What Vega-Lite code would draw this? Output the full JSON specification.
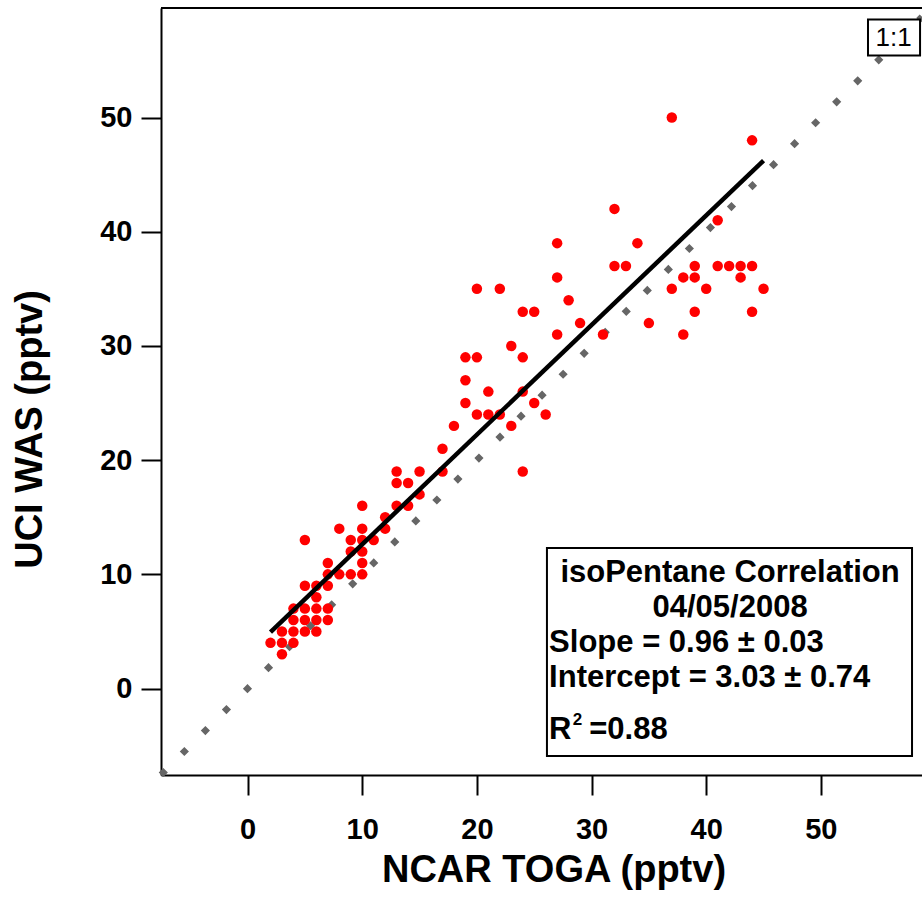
{
  "$schema": "https://vega.github.io/schema/vega-lite/v6.json",
  "width": 761,
  "height": 767,
  "autosize": "none",
  "padding": {"left": 161, "top": 8, "right": 0, "bottom": 126},
  "background": "white",
  "config": {
    "view": {"stroke": null},
    "font": "Liberation Sans",
    "axis": {
      "grid": false,
      "domainColor": "black",
      "domainWidth": 2,
      "tickColor": "black",
      "tickWidth": 2,
      "tickSize": 20,
      "labelFont": "Liberation Sans",
      "labelFontWeight": "bold",
      "labelFontSize": 29,
      "labelColor": "black",
      "labelFlush": false,
      "titleFont": "Liberation Sans",
      "titleFontWeight": "bold",
      "titleFontSize": 38,
      "titleColor": "black"
    }
  },
  "datasets": {
    "points": [
      {"NCAR_TOGA": 2, "UCI_WAS": 4}, {"NCAR_TOGA": 3, "UCI_WAS": 3}, {"NCAR_TOGA": 3, "UCI_WAS": 4}, {"NCAR_TOGA": 3, "UCI_WAS": 5},
      {"NCAR_TOGA": 4, "UCI_WAS": 4}, {"NCAR_TOGA": 4, "UCI_WAS": 5}, {"NCAR_TOGA": 4, "UCI_WAS": 6}, {"NCAR_TOGA": 4, "UCI_WAS": 7},
      {"NCAR_TOGA": 5, "UCI_WAS": 5}, {"NCAR_TOGA": 5, "UCI_WAS": 6}, {"NCAR_TOGA": 5, "UCI_WAS": 7}, {"NCAR_TOGA": 5, "UCI_WAS": 9},
      {"NCAR_TOGA": 5, "UCI_WAS": 13}, {"NCAR_TOGA": 6, "UCI_WAS": 5}, {"NCAR_TOGA": 6, "UCI_WAS": 6}, {"NCAR_TOGA": 6, "UCI_WAS": 7},
      {"NCAR_TOGA": 6, "UCI_WAS": 8}, {"NCAR_TOGA": 6, "UCI_WAS": 9}, {"NCAR_TOGA": 7, "UCI_WAS": 6}, {"NCAR_TOGA": 7, "UCI_WAS": 7},
      {"NCAR_TOGA": 7, "UCI_WAS": 9}, {"NCAR_TOGA": 7, "UCI_WAS": 10}, {"NCAR_TOGA": 7, "UCI_WAS": 11}, {"NCAR_TOGA": 8, "UCI_WAS": 10},
      {"NCAR_TOGA": 8, "UCI_WAS": 14}, {"NCAR_TOGA": 9, "UCI_WAS": 10}, {"NCAR_TOGA": 9, "UCI_WAS": 12}, {"NCAR_TOGA": 9, "UCI_WAS": 13},
      {"NCAR_TOGA": 10, "UCI_WAS": 10}, {"NCAR_TOGA": 10, "UCI_WAS": 11}, {"NCAR_TOGA": 10, "UCI_WAS": 12}, {"NCAR_TOGA": 10, "UCI_WAS": 13},
      {"NCAR_TOGA": 10, "UCI_WAS": 14}, {"NCAR_TOGA": 10, "UCI_WAS": 16}, {"NCAR_TOGA": 11, "UCI_WAS": 13}, {"NCAR_TOGA": 12, "UCI_WAS": 14},
      {"NCAR_TOGA": 12, "UCI_WAS": 15}, {"NCAR_TOGA": 13, "UCI_WAS": 16}, {"NCAR_TOGA": 13, "UCI_WAS": 18}, {"NCAR_TOGA": 13, "UCI_WAS": 19},
      {"NCAR_TOGA": 14, "UCI_WAS": 16}, {"NCAR_TOGA": 14, "UCI_WAS": 18}, {"NCAR_TOGA": 15, "UCI_WAS": 17}, {"NCAR_TOGA": 15, "UCI_WAS": 19},
      {"NCAR_TOGA": 17, "UCI_WAS": 19}, {"NCAR_TOGA": 17, "UCI_WAS": 21}, {"NCAR_TOGA": 18, "UCI_WAS": 23}, {"NCAR_TOGA": 19, "UCI_WAS": 25},
      {"NCAR_TOGA": 19, "UCI_WAS": 27}, {"NCAR_TOGA": 19, "UCI_WAS": 29}, {"NCAR_TOGA": 20, "UCI_WAS": 24}, {"NCAR_TOGA": 20, "UCI_WAS": 29},
      {"NCAR_TOGA": 20, "UCI_WAS": 35}, {"NCAR_TOGA": 21, "UCI_WAS": 24}, {"NCAR_TOGA": 21, "UCI_WAS": 26}, {"NCAR_TOGA": 22, "UCI_WAS": 24},
      {"NCAR_TOGA": 22, "UCI_WAS": 35}, {"NCAR_TOGA": 23, "UCI_WAS": 23}, {"NCAR_TOGA": 23, "UCI_WAS": 30}, {"NCAR_TOGA": 24, "UCI_WAS": 19},
      {"NCAR_TOGA": 24, "UCI_WAS": 26}, {"NCAR_TOGA": 24, "UCI_WAS": 29}, {"NCAR_TOGA": 24, "UCI_WAS": 33}, {"NCAR_TOGA": 25, "UCI_WAS": 25},
      {"NCAR_TOGA": 25, "UCI_WAS": 33}, {"NCAR_TOGA": 26, "UCI_WAS": 24}, {"NCAR_TOGA": 27, "UCI_WAS": 31}, {"NCAR_TOGA": 27, "UCI_WAS": 36},
      {"NCAR_TOGA": 27, "UCI_WAS": 39}, {"NCAR_TOGA": 28, "UCI_WAS": 34}, {"NCAR_TOGA": 29, "UCI_WAS": 32}, {"NCAR_TOGA": 31, "UCI_WAS": 31},
      {"NCAR_TOGA": 32, "UCI_WAS": 37}, {"NCAR_TOGA": 32, "UCI_WAS": 42}, {"NCAR_TOGA": 33, "UCI_WAS": 37}, {"NCAR_TOGA": 34, "UCI_WAS": 39},
      {"NCAR_TOGA": 35, "UCI_WAS": 32}, {"NCAR_TOGA": 37, "UCI_WAS": 35}, {"NCAR_TOGA": 37, "UCI_WAS": 50}, {"NCAR_TOGA": 38, "UCI_WAS": 31},
      {"NCAR_TOGA": 38, "UCI_WAS": 36}, {"NCAR_TOGA": 39, "UCI_WAS": 33}, {"NCAR_TOGA": 39, "UCI_WAS": 36}, {"NCAR_TOGA": 39, "UCI_WAS": 37},
      {"NCAR_TOGA": 40, "UCI_WAS": 35}, {"NCAR_TOGA": 41, "UCI_WAS": 37}, {"NCAR_TOGA": 41, "UCI_WAS": 41}, {"NCAR_TOGA": 42, "UCI_WAS": 37},
      {"NCAR_TOGA": 43, "UCI_WAS": 36}, {"NCAR_TOGA": 43, "UCI_WAS": 37}, {"NCAR_TOGA": 44, "UCI_WAS": 33}, {"NCAR_TOGA": 44, "UCI_WAS": 37},
      {"NCAR_TOGA": 44, "UCI_WAS": 48}, {"NCAR_TOGA": 45, "UCI_WAS": 35}
    ],
    "fit": [
      {"NCAR_TOGA": 2, "UCI_WAS": 4.95},
      {"NCAR_TOGA": 45, "UCI_WAS": 46.23}
    ],
    "oneToOne": [
      {"NCAR_TOGA": -7.55, "UCI_WAS": -7.55},
      {"NCAR_TOGA": 58.82, "UCI_WAS": 58.82}
    ],
    "one": [{}]
  },
  "layer": [
    {
      "data": {"name": "one"},
      "mark": {"type": "rule", "color": "black", "strokeWidth": 2},
      "encoding": {"y": {"datum": 59.59}}
    },
    {
      "data": {"name": "oneToOne"},
      "mark": {"type": "line", "color": "#666666", "strokeWidth": 6.5, "strokeDash": [6.5, 23.2], "strokeCap": "butt"},
      "encoding": {
        "x": {"field": "NCAR_TOGA", "type": "quantitative"},
        "y": {"field": "UCI_WAS", "type": "quantitative"}
      }
    },
    {
      "data": {"name": "points"},
      "mark": {"type": "circle", "color": "#FF0000", "opacity": 1, "size": 110},
      "encoding": {
        "x": {
          "field": "NCAR_TOGA", "type": "quantitative",
          "scale": {"domain": [-7.55, 58.82], "nice": false, "zero": false},
          "axis": {"values": [0, 10, 20, 30, 40, 50], "title": "NCAR TOGA (pptv)", "labelPadding": 20,
                   "titleX": 392.5, "titleY": 106.7, "titleAlign": "center", "titleBaseline": "alphabetic"}
        },
        "y": {
          "field": "UCI_WAS", "type": "quantitative",
          "scale": {"domain": [-7.57, 59.59], "nice": false, "zero": false},
          "axis": {"values": [0, 10, 20, 30, 40, 50], "title": "UCI WAS (pptv)", "labelPadding": 9,
                   "titleX": -119.3, "titleY": 421, "titleAngle": -90, "titleAlign": "center", "titleBaseline": "alphabetic"}
        }
      }
    },
    {
      "data": {"name": "fit"},
      "mark": {"type": "line", "color": "black", "strokeWidth": 4.5, "strokeCap": "butt"},
      "encoding": {
        "x": {"field": "NCAR_TOGA", "type": "quantitative"},
        "y": {"field": "UCI_WAS", "type": "quantitative"}
      }
    },
    {
      "data": {"name": "one"},
      "mark": {"type": "rect", "fill": "white", "stroke": "black", "strokeWidth": 2},
      "encoding": {"x": {"datum": 54.11}, "x2": {"datum": 58.65}, "y": {"datum": 58.58}, "y2": {"datum": 55.43}}
    },
    {
      "data": {"name": "one"},
      "mark": {"type": "text", "text": "1:1", "fontSize": 26, "font": "Liberation Sans", "align": "center", "baseline": "middle", "color": "black"},
      "encoding": {"x": {"datum": 56.35}, "y": {"datum": 56.95}}
    },
    {
      "data": {"name": "one"},
      "mark": {"type": "rect", "fill": "white", "stroke": "black", "strokeWidth": 2},
      "encoding": {"x": {"datum": 26.11}, "x2": {"datum": 57.95}, "y": {"datum": 12.3}, "y2": {"datum": -5.91}}
    },
    {
      "data": {"name": "one"},
      "mark": {"type": "text", "text": "isoPentane Correlation", "fontSize": 31, "fontWeight": "bold", "font": "Liberation Sans", "align": "center", "baseline": "alphabetic", "color": "black"},
      "encoding": {"x": {"datum": 42.08}, "y": {"datum": 9.35}}
    },
    {
      "data": {"name": "one"},
      "mark": {"type": "text", "text": "04/05/2008", "fontSize": 31, "fontWeight": "bold", "font": "Liberation Sans", "align": "center", "baseline": "alphabetic", "color": "black"},
      "encoding": {"x": {"datum": 42.08}, "y": {"datum": 6.29}}
    },
    {
      "data": {"name": "one"},
      "mark": {"type": "text", "text": "Slope = 0.96 ± 0.03", "fontSize": 31, "fontWeight": "bold", "font": "Liberation Sans", "align": "left", "baseline": "alphabetic", "color": "black"},
      "encoding": {"x": {"datum": 26.3}, "y": {"datum": 3.22}}
    },
    {
      "data": {"name": "one"},
      "mark": {"type": "text", "text": "Intercept = 3.03 ± 0.74", "fontSize": 31, "fontWeight": "bold", "font": "Liberation Sans", "align": "left", "baseline": "alphabetic", "color": "black"},
      "encoding": {"x": {"datum": 26.3}, "y": {"datum": 0.16}}
    },
    {
      "data": {"name": "one"},
      "mark": {"type": "text", "text": "R", "fontSize": 31, "fontWeight": "bold", "font": "Liberation Sans", "align": "left", "baseline": "alphabetic", "color": "black"},
      "encoding": {"x": {"datum": 26.3}, "y": {"datum": -4.45}}
    },
    {
      "data": {"name": "one"},
      "mark": {"type": "text", "text": "2", "fontSize": 17, "fontWeight": "bold", "font": "Liberation Sans", "align": "left", "baseline": "alphabetic", "color": "black"},
      "encoding": {"x": {"datum": 28.35}, "y": {"datum": -3.2}}
    },
    {
      "data": {"name": "one"},
      "mark": {"type": "text", "text": "=0.88", "fontSize": 31, "fontWeight": "bold", "font": "Liberation Sans", "align": "left", "baseline": "alphabetic", "color": "black"},
      "encoding": {"x": {"datum": 29.8}, "y": {"datum": -4.45}}
    }
  ]
}
